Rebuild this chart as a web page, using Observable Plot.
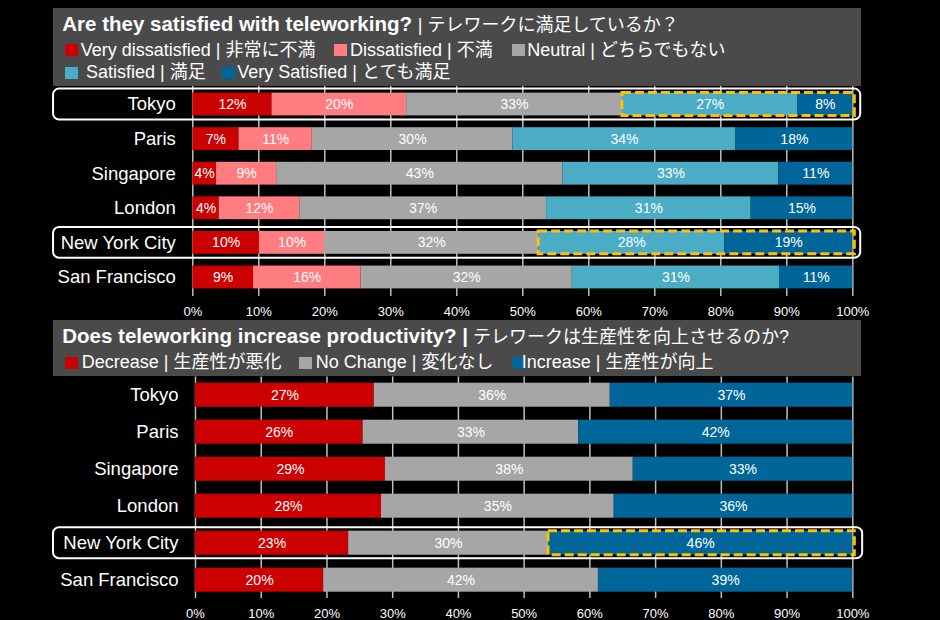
<!DOCTYPE html>
<html><head><meta charset="utf-8">
<script src="https://cdn.jsdelivr.net/npm/d3@7"></script>
<script src="https://cdn.jsdelivr.net/npm/@observablehq/plot@0.6"></script>
<style>
html,body{margin:0;padding:0;background:#000;}
#root{position:relative;width:940px;height:620px;overflow:hidden;background:#000;font-family:"Liberation Sans","Noto Sans CJK JP",sans-serif;color:#fff;}
.plot{position:absolute;left:0;}
.box{position:absolute;background:#4a4a4a;z-index:2;}
.title{position:absolute;white-space:nowrap;font-size:20.5px;line-height:20.5px;font-weight:bold;}
.title .ja{font-weight:normal;font-size:18px;}
.item{position:absolute;white-space:nowrap;font-size:18px;line-height:18px;}
.sw{position:absolute;width:13px;height:12px;}
.tx{position:absolute;top:0;}
</style></head><body><div id="root"></div>
<script>
// ---------- data ----------
const cities = ["Tokyo", "Paris", "Singapore", "London", "New York City", "San Francisco"];

const satKeys = ["Very dissatisfied", "Dissatisfied", "Neutral", "Satisfied", "Very Satisfied"];
const satJa = ["非常に不満", "不満", "どちらでもない", "満足", "とても満足"];
const satColors = ["#cc0000", "#ff7c80", "#a6a6a6", "#4bacc6", "#006699"];
const veryDissatisfied = [12.0, 7.0, 3.6, 4.0, 10.1, 9.2];
const dissatisfied     = [20.4, 11.1, 9.1, 12.2, 9.9, 16.3];
const neutral          = [32.7, 30.4, 43.4, 37.4, 32.4, 32.0];
const satisfied        = [26.6, 33.8, 32.7, 31.0, 28.2, 31.4];
const verySatisfied    = [8.3, 17.7, 11.2, 15.4, 19.4, 11.1];
const satHighlight = ["Tokyo", "New York City"];

const prodKeys = ["Decrease", "No Change", "Increase"];
const prodJa = ["生産性が悪化", "変化なし", "生産性が向上"];
const prodColors = ["#cc0000", "#a6a6a6", "#006699"];
const decrease = [27.2, 25.5, 28.9, 28.3, 23.3, 19.5];
const noChange = [35.9, 32.8, 37.7, 35.4, 30.4, 41.8];
const increase = [36.9, 41.7, 33.4, 36.3, 46.3, 38.7];
const prodHighlight = ["New York City"];

const xTicks = [0, 10, 20, 30, 40, 50, 60, 70, 80, 90, 100];

const satTitle = ["Are they satisfied with teleworking? ", "| テレワークに満足しているか？"];
const prodTitle = ["Does teleworking increase productivity? |", " テレワークは生産性を向上させるのか?"];

// ---------- build tables ----------
function buildRows(keys, series) {
  const rows = [];
  cities.forEach((city, i) => {
    let acc = 0;
    keys.forEach((key, k) => {
      const v = series[k][i];
      rows.push({city, key, value: v, x1: acc, x2: acc + v, mid: acc + v / 2});
      acc += v;
    });
  });
  return rows;
}
const satRows = buildRows(satKeys, [veryDissatisfied, dissatisfied, neutral, satisfied, verySatisfied]);
const prodRows = buildRows(prodKeys, [decrease, noChange, increase]);

function highlightRows(rows, cityList, fromKey) {
  return cityList.map(city => {
    const r = rows.filter(d => d.city === city);
    const start = r.find(d => d.key === fromKey).x1;
    return {city, x1: start, x2: r[r.length - 1].x2};
  });
}
const satHL = highlightRows(satRows, satHighlight, "Satisfied");
const prodHL = highlightRows(prodRows, prodHighlight, "Increase");

const FONT = '"Liberation Sans","Noto Sans CJK JP",sans-serif';
const root = document.getElementById("root");

function panel({rows, keys, colors, hl, hlCities, height, top, marginLeft, marginTop, marginBottom, pIn, pOut, outerLeft, outerRight, inset}) {
  const chart = Plot.plot({
    width: 940, height, marginLeft, marginRight: 940 - 852.3, marginTop, marginBottom,
    style: {background: "transparent", color: "white", fontFamily: FONT, fontSize: "13px", overflow: "visible"},
    x: {domain: [0, 100], axis: null},
    y: {domain: cities, paddingInner: pIn, paddingOuter: pOut, round: false, axis: null},
    color: {domain: keys, range: colors},
    marks: [
      Plot.gridX(xTicks, {stroke: "#bfbfbf", strokeOpacity: 1, strokeWidth: 1.5}),
      Plot.barX(rows, {x1: "x1", x2: "x2", y: "city", fill: "key"}),
      Plot.text(rows, {x: "mid", y: "city", text: d => Math.round(d.value) + "%", fill: "white", fontSize: 14}),
      Plot.rect(hlCities, {x1: () => outerLeft, x2: () => outerRight, y: d => d, insetTop: -inset, insetBottom: -inset, rx: 6, fill: "none", stroke: "white", strokeWidth: 2}),
      Plot.rect(hl, {x1: "x1", x2: "x2", y: "city", insetRight: -2, fill: "none", stroke: "#ffc000", strokeWidth: 3, strokeDasharray: "9,4"}),
      Plot.axisX(xTicks, {tickSize: 0, tickPadding: 10, tickFormat: d => d + "%", fontSize: 13, fill: "white", label: null}),
      Plot.axisY({tickSize: 0, tickPadding: 17, fontSize: 18.5, fill: "white", label: null})
    ]
  });
  chart.classList.add("plot");
  chart.style.top = top + "px";
  root.appendChild(chart);
}

panel({rows: satRows, keys: satKeys, colors: satColors, hl: satHL, hlCities: satHighlight,
  height: 320, top: 0, marginLeft: 192.3, marginTop: 85, marginBottom: 24, pIn: 0.34, pOut: 0.22,
  outerLeft: -21.1, outerRight: 101.2, inset: 4});
panel({rows: prodRows, keys: prodKeys, colors: prodColors, hl: prodHL, hlCities: prodHighlight,
  height: 300, top: 320, marginLeft: 195, marginTop: 56.4, marginBottom: 22, pIn: 0.35, pOut: 0.17,
  outerLeft: -21.6, outerRight: 101.5, inset: 3.5});

// ---------- title boxes & legends ----------
function box({top, height, title, titleTop, items}) {
  const b = document.createElement("div");
  b.className = "box";
  b.style.left = "53px"; b.style.top = top + "px"; b.style.width = "808px"; b.style.height = height + "px";
  const t = document.createElement("div");
  t.className = "title";
  t.style.left = "9.3px"; t.style.top = titleTop + "px";
  const s1 = document.createElement("span"); s1.textContent = title[0];
  const s2 = document.createElement("span"); s2.className = "ja"; s2.textContent = title[1];
  t.appendChild(s1); t.appendChild(s2);
  b.appendChild(t);
  items.forEach(it => {
    const d = document.createElement("div");
    d.className = "item";
    d.style.left = (it.x - 53) + "px"; d.style.top = it.top + "px";
    const sw = document.createElement("span");
    sw.className = "sw"; sw.style.background = it.color; sw.style.left = "0px"; sw.style.top = it.swTop + "px";
    const tx = document.createElement("span");
    tx.className = "tx"; tx.style.left = (it.tx - it.x) + "px"; tx.textContent = it.text;
    d.appendChild(sw); d.appendChild(tx);
    b.appendChild(d);
  });
  root.appendChild(b);
}

const satPos = [
  {x: 65, tx: 80.7, top: 32.5, swTop: 3.5},
  {x: 334.3, tx: 350, top: 32.5, swTop: 3.5},
  {x: 511.7, tx: 527.3, top: 32.5, swTop: 3.5},
  {x: 65, tx: 86, top: 54.5, swTop: 4.2},
  {x: 221.7, tx: 237.3, top: 54.5, swTop: 4.2}
];
box({top: 8, height: 78, title: satTitle, titleTop: 6.3,
  items: satKeys.map((k, i) => ({...satPos[i], color: satColors[i], text: `${k} | ${satJa[i]}`}))});

const prodPos = [
  {x: 65, tx: 81.7, top: 33, swTop: 3.7},
  {x: 299.3, tx: 315.7, top: 33, swTop: 3.7},
  {x: 511.7, tx: 521.7, top: 33, swTop: 3.7}
];
box({top: 320, height: 56, title: prodTitle, titleTop: 6,
  items: prodKeys.map((k, i) => ({...prodPos[i], color: prodColors[i], text: `${k} | ${prodJa[i]}`}))});
</script>
</body></html>
